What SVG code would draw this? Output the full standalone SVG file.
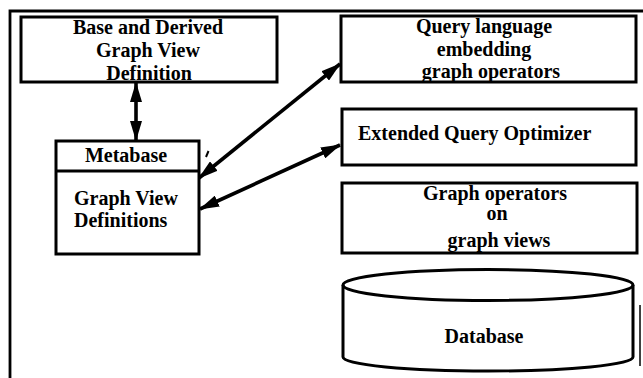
<svg xmlns="http://www.w3.org/2000/svg" width="643" height="378" viewBox="0 0 643 378">
<style>
.box{fill:#fff;stroke:#000;stroke-width:3}
.frame{fill:none;stroke:#000;stroke-width:2.8}
.t{font-family:"Liberation Serif","Times New Roman",serif;font-weight:bold;font-size:20px;fill:#000}
.c{text-anchor:middle}
.conn{stroke:#000;stroke-width:3.6;fill:none;marker-start:url(#ah);marker-end:url(#ah)}
</style>
<defs>
<marker id="ah" viewBox="0 0 20 12" refX="19" refY="6" markerWidth="20" markerHeight="12" markerUnits="userSpaceOnUse" orient="auto-start-reverse">
<path d="M0,0 L20,6 L0,12 Z" fill="#000"/>
</marker>
</defs>
<rect width="643" height="378" fill="#fff"/>
<g id="frame">
<path class="frame" d="M10,378 L10,11 L643,11"/>
<path d="M640,305 L640,366" stroke="#000" stroke-width="1.5"/>
<path d="M206,157 L208.5,151" stroke="#000" stroke-width="2"/>
</g>
<g id="node-base">
<rect class="box" x="21" y="17" width="256" height="65"/>
<text class="t c" x="148" y="34">Base and Derived</text>
<text class="t c" x="148" y="57">Graph View</text>
<text class="t c" x="149" y="80">Definition</text>
</g>
<g id="node-metabase">
<rect class="box" x="56" y="141" width="143" height="113"/>
<line x1="56" y1="171" x2="199" y2="171" stroke="#000" stroke-width="3"/>
<text class="t c" x="126" y="162">Metabase</text>
<text class="t" x="74" y="205">Graph View</text>
<text class="t" x="74" y="227">Definitions</text>
</g>
<g id="node-query">
<rect class="box" x="341" y="16" width="295" height="66"/>
<text class="t c" x="484" y="33">Query language</text>
<text class="t c" x="484" y="56">embedding</text>
<text class="t c" x="491" y="78">graph operators</text>
</g>
<g id="node-optimizer">
<rect class="box" x="342" y="109" width="294" height="56"/>
<text class="t" x="358" y="140">Extended Query Optimizer</text>
</g>
<g id="node-operators">
<rect class="box" x="342" y="183" width="295" height="70"/>
<text class="t c" x="495" y="200">Graph operators</text>
<text class="t c" x="497" y="220">on</text>
<text class="t c" x="499" y="247">graph views</text>
</g>
<g id="node-database">
<path class="box" d="M343,285 L343,357 A145,14 0 0 0 633,357 L633,285 A145,15.5 0 0 0 343,285 Z"/>
<path d="M343,285 A145,15.5 0 0 0 633,285" fill="none" stroke="#000" stroke-width="3"/>
<text class="t c" x="484" y="343">Database</text>
</g>
<g id="connectors">
<line class="conn" x1="136" y1="83" x2="136" y2="140"/>
<line class="conn" x1="199" y1="178" x2="340" y2="64"/>
<line class="conn" x1="200" y1="209" x2="340" y2="145"/>
</g>
</svg>
